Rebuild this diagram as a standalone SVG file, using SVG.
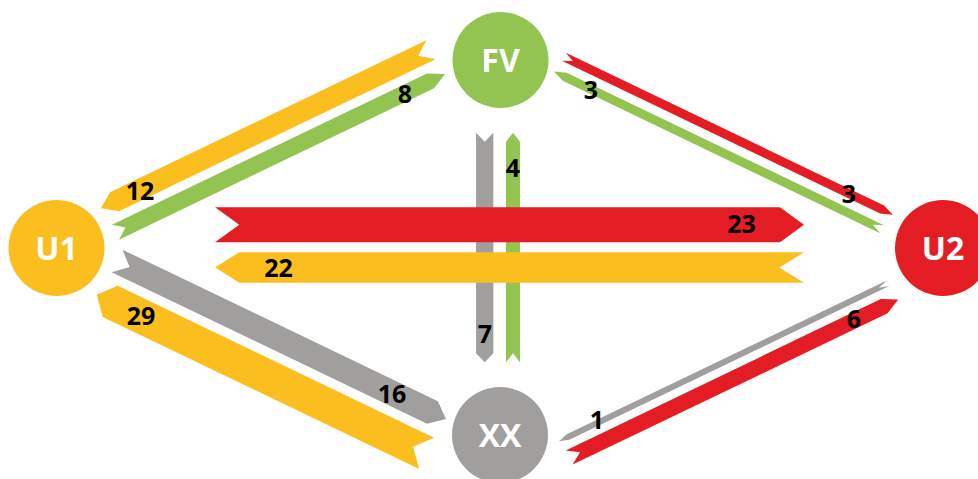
<svg xmlns="http://www.w3.org/2000/svg" width="978" height="479" viewBox="0 0 978 479">
<style>
.y{fill:#FBBE1F}.g{fill:#93C452}.r{fill:#E31D23}.k{fill:#A09F9D}
.lbl{font-family:"Open Sans","Noto Sans","DejaVu Sans",sans-serif;font-weight:bold;font-size:25px;fill:#000;text-anchor:middle}
.nt{font-family:"Open Sans","Noto Sans","DejaVu Sans",sans-serif;font-weight:bold;font-size:32px;fill:#fff;text-anchor:middle}
</style>
<rect width="978" height="479" fill="#fff"/>
<g id="connectors">
  <path class="y" transform="translate(430.9,49.7) rotate(154.34)" d="M0,-10.5 H351 L366,0 L351,10.5 H0 L14,0 Z"/>
  <path class="g" transform="translate(115.5,232.2) rotate(-25.66)" d="M0,-8.25 H349.5 L365.5,0 L349.5,8.25 H0 L11,0 Z"/>
  <path class="r" transform="translate(563.9,56.7) rotate(25.66)" d="M0,-4.5 H353 L365,0 L353,4.5 H0 L10,0 Z"/>
  <path class="g" transform="translate(882,229.2) rotate(205.66)" d="M0,-4.5 H352 L364,0 L352,4.5 H0 L10,0 Z"/>
  <path class="k" transform="translate(117,260.9) rotate(25.66)" d="M0,-12.5 H350 L365,0 L350,12.5 H0 L14,0 Z"/>
  <path class="y" transform="translate(426.65,453.35) rotate(205.66)" d="M0,-17.25 H351 L366,0 L351,17.25 H0 L15,0 Z"/>
  <path class="k" transform="translate(888,283.3) rotate(154.34)" d="M0,-3 H355 L365,0 L355,3 H0 L10,0 Z"/>
  <path class="r" transform="translate(569.2,457.5) rotate(-25.66)" d="M0,-7.9 H349.5 L365,0 L349.5,7.9 H0 L12,0 Z"/>
  <path class="k" transform="translate(484.7,132.7) rotate(90)" d="M0,-8.65 H220.6 L229.6,0 L220.6,8.65 H0 L9,0 Z"/>
  <path class="g" transform="translate(513,362.3) rotate(-90)" d="M0,-7 H220.6 L229.6,0 L220.6,7 H0 L9,0 Z"/>
  <path class="r" d="M215,207.3 H780 L804,224.8 L780,242.3 H215 L239.3,224.8 Z"/>
  <path class="y" d="M804,252.3 H239.3 L215,267.5 L239.3,282.7 H804 L779.3,267.5 Z"/>
  <text class="lbl" x="140" y="200">12</text>
  <text class="lbl" x="405" y="103">8</text>
  <text class="lbl" x="591" y="99">3</text>
  <text class="lbl" x="849" y="203">3</text>
  <text class="lbl" x="513" y="177">4</text>
  <text class="lbl" x="741.5" y="233">23</text>
  <text class="lbl" x="278.5" y="276.5">22</text>
  <text class="lbl" x="485" y="343">7</text>
  <text class="lbl" x="141" y="325">29</text>
  <text class="lbl" x="392" y="403">16</text>
  <text class="lbl" x="597" y="429">1</text>
  <text class="lbl" x="854" y="328">6</text>
</g>
<g id="FV"><circle cx="500.5" cy="60" r="48" class="g"/><text class="nt" x="500.5" y="71.5">FV</text></g>
<g id="U1"><circle cx="56.5" cy="248" r="48" class="y"/><text class="nt" x="56.5" y="259.5">U1</text></g>
<g id="U2"><circle cx="943" cy="248" r="48" class="r"/><text class="nt" x="943" y="259.5">U2</text></g>
<g id="XX"><circle cx="500" cy="435" r="48" class="k"/><text class="nt" x="500" y="446.5">XX</text></g>
</svg>
